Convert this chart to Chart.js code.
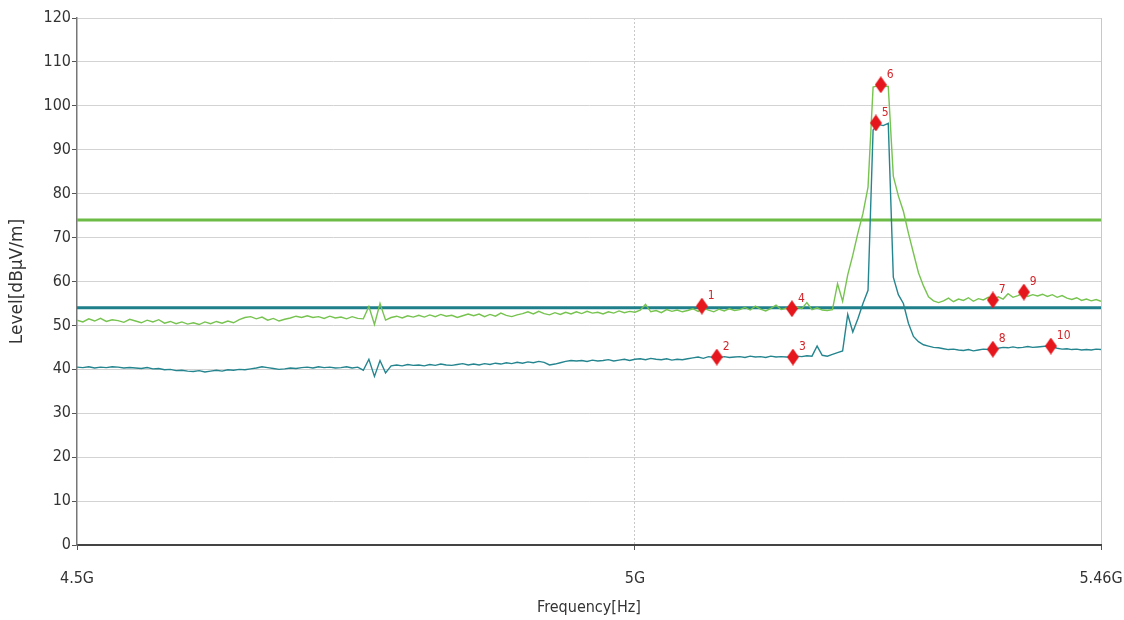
<!DOCTYPE html>
<html>
<head>
<meta charset="utf-8">
<script src="https://cdn.jsdelivr.net/npm/chart.js@4"></script>
<style>
  html, body { margin: 0; padding: 0; background: #fff; }
  #wrap { width: 1124px; height: 620px; position: relative; }
</style>
</head>
<body>
<div id="wrap"><canvas id="emiChart"></canvas></div>
<script>
// sweep grid (MHz)
const sweepStartMHz = 4500;
const sweepStepMHz = 5;

// peak trace (green), one value per 5 MHz from 4500 to 5460
const peakLevel = [
  51.2, 50.8, 51.5, 51.0, 51.6, 50.9, 51.3, 51.1, 50.7, 51.4,   // 4500
  51.0, 50.6, 51.2, 50.8, 51.3, 50.5, 50.9, 50.4, 50.8, 50.3,   // 4550
  50.6, 50.2, 50.8, 50.4, 50.9, 50.5, 51.0, 50.6, 51.3, 51.8,   // 4600
  52.0, 51.5, 51.9, 51.2, 51.6, 51.0, 51.4, 51.7, 52.1, 51.8,   // 4650
  52.2, 51.8, 52.0, 51.6, 52.1, 51.7, 51.9, 51.5, 52.0, 51.6,   // 4700
  51.5, 54.3, 50.2, 55.0, 51.2, 51.8, 52.1, 51.7, 52.2, 51.9,   // 4750
  52.3, 51.9, 52.4, 52.0, 52.5, 52.1, 52.3, 51.8, 52.2, 52.6,   // 4800
  52.2, 52.6, 52.0, 52.5, 52.1, 52.8, 52.3, 52.0, 52.4, 52.7,   // 4850
  53.1, 52.6, 53.2, 52.7, 52.4, 52.9, 52.5, 53.0, 52.6, 53.1,   // 4900
  52.7, 53.2, 52.8, 53.0, 52.6, 53.1, 52.8, 53.3, 52.9, 53.2,   // 4950
  53.0, 53.5, 54.8, 53.1, 53.4, 52.9, 53.6, 53.2, 53.5, 53.1,   // 5000
  53.4, 53.8, 53.2, 53.9, 53.5, 53.1, 53.7, 53.3, 53.8, 53.4,   // 5050
  53.6, 54.1, 53.5, 54.4, 53.7, 53.3, 53.9, 54.6, 53.6, 53.9,   // 5100
  53.7, 54.2, 53.8, 55.2, 53.6, 54.0, 53.5, 53.4, 53.6, 59.5,   // 5150
  55.5, 61.5, 66.0, 71.0, 75.5, 81.5, 104.3, 104.6, 104.5, 104.4, // 5200
  84.0, 79.5, 76.0, 71.0, 66.5, 62.0, 59.0, 56.5, 55.6, 55.2,   // 5250
  55.6, 56.2, 55.4, 56.0, 55.7, 56.3, 55.5, 56.1, 55.8, 56.4,   // 5300
  55.9, 56.5, 56.0, 57.2, 56.4, 56.8, 57.3, 56.6, 57.0, 56.7,   // 5350
  57.1, 56.6, 57.0, 56.4, 56.8, 56.2, 55.9, 56.3, 55.7, 56.0,   // 5400
  55.6, 55.9, 55.5                                              // 5450
];

// average trace (teal)
const avgLevel = [
  40.5, 40.4, 40.6, 40.3, 40.5, 40.4, 40.6, 40.5, 40.3, 40.4,
  40.3, 40.2, 40.4, 40.1, 40.2, 39.9, 40.0, 39.7, 39.8, 39.6,
  39.5, 39.7, 39.4, 39.6, 39.8, 39.6, 39.9, 39.8, 40.0, 39.9,
  40.1, 40.3, 40.6, 40.4, 40.2, 40.0, 40.1, 40.3, 40.2, 40.4,
  40.5, 40.3, 40.6, 40.4, 40.5, 40.3, 40.4, 40.6, 40.3, 40.5,
  39.8, 42.3, 38.4, 42.0, 39.2, 40.8, 41.0, 40.8, 41.1, 40.9,
  41.0, 40.8, 41.1, 40.9, 41.2, 41.0, 40.9, 41.1, 41.3, 41.0,
  41.2, 41.0, 41.3, 41.1, 41.4, 41.2, 41.5, 41.3, 41.6, 41.4,
  41.7, 41.5, 41.8, 41.6, 41.0, 41.2, 41.5, 41.8, 42.0, 41.9,
  42.0, 41.8, 42.1, 41.9, 42.0, 42.2, 41.9, 42.1, 42.3, 42.0,
  42.3, 42.4, 42.2, 42.5, 42.3, 42.2, 42.4, 42.1, 42.3, 42.2,
  42.4, 42.6, 42.8, 42.5, 42.9, 42.7, 42.6, 42.9, 42.7, 42.8,
  42.9, 42.7, 43.0, 42.8, 42.9, 42.7, 43.0, 42.8, 42.9, 42.8,
  42.8, 43.0, 42.9, 43.1, 43.0, 45.3, 43.2, 43.0, 43.4, 43.8,
  44.2, 52.5, 48.5, 51.5, 55.0, 58.0, 94.5, 95.8, 95.5, 96.0,
  61.0, 57.0, 55.0, 50.5, 47.5, 46.3, 45.6, 45.3, 45.0, 44.9,
  44.7, 44.5, 44.6, 44.4, 44.3, 44.5, 44.2, 44.4, 44.6, 44.5,
  44.6, 44.8, 45.0, 44.9, 45.1, 44.9, 45.0, 45.2, 45.0, 45.1,
  45.2, 45.3, 45.1, 44.8, 44.6, 44.7, 44.5, 44.6, 44.4, 44.5,
  44.4, 44.6, 44.5
];

// limit lines
const limitFreqMHz = [4500, 5460];
const peakLimit = [74, 74];
const avgLimit = [54, 54];

// markers
const markerLabels = ['1', '2', '3', '4', '5', '6', '7', '8', '9', '10'];
const markerFreqMHz = [5063.6, 5077.9, 5151.4, 5150.4, 5232.7, 5237.6, 5349.6, 5349.6, 5381.0, 5408.5];
const markerLevel = [54.4, 42.8, 42.8, 53.8, 96.1, 104.8, 55.8, 44.6, 57.6, 45.3];

// axis ticks
const xTickMHz = [4500, 5000, 5460];
const yTicks = [0, 10, 20, 30, 40, 50, 60, 70, 80, 90, 100, 110, 120];

const freqMHz = peakLevel.map((_, i) => sweepStartMHz + i * sweepStepMHz);
const toXY = (xs, ys) => ys.map((y, i) => ({ x: xs[i], y: y }));

// diamond marker image
const diamond = document.createElement('canvas');
diamond.width = 12; diamond.height = 17;
(function () {
  const c = diamond.getContext('2d');
  c.fillStyle = '#e5161c';
  c.beginPath();
  c.moveTo(6, 0); c.lineTo(12, 8.5); c.lineTo(6, 17); c.lineTo(0, 8.5);
  c.closePath();
  c.fill();
})();

// marker numbers
const markerText = {
  id: 'markerText',
  afterDatasetsDraw(chart) {
    const meta = chart.getDatasetMeta(4);
    const c = chart.ctx;
    c.save();
    c.fillStyle = '#d3262b';
    c.font = '12px "Liberation Sans Narrow", "DejaVu Sans Condensed", "Liberation Sans", Arial';
    c.textAlign = 'left';
    c.textBaseline = 'middle';
    meta.data.forEach((pt, i) => {
      c.fillText(markerLabels[i], pt.x + 6, pt.y - 10);
    });
    c.restore();
  }
};

const narrow = '"Liberation Sans Narrow", "DejaVu Sans Condensed", "Liberation Sans", Arial';

new Chart(document.getElementById('emiChart'), {
  type: 'line',
  data: {
    datasets: [
      {
        label: 'Peak limit',
        data: toXY(limitFreqMHz, peakLimit),
        borderColor: '#6cbb47',
        borderWidth: 3,
        pointRadius: 0,
        order: 4
      },
      {
        label: 'Avg limit',
        data: toXY(limitFreqMHz, avgLimit),
        borderColor: '#1f7f8b',
        borderWidth: 3,
        pointRadius: 0,
        order: 3
      },
      {
        label: 'Peak',
        data: toXY(freqMHz, peakLevel),
        borderColor: '#76c34f',
        borderWidth: 1.4,
        pointRadius: 0,
        tension: 0,
        order: 2
      },
      {
        label: 'Average',
        data: toXY(freqMHz, avgLevel),
        borderColor: '#25858f',
        borderWidth: 1.4,
        pointRadius: 0,
        tension: 0,
        order: 1
      },
      {
        label: 'Markers',
        data: toXY(markerFreqMHz, markerLevel),
        showLine: false,
        pointStyle: diamond,
        pointRadius: 8,
        order: 0
      }
    ]
  },
  options: {
    responsive: true,
    maintainAspectRatio: false,
    animation: false,
    events: [],
    layout: { padding: { left: 0, right: 23, top: 18, bottom: 0 } },
    plugins: {
      legend: { display: false },
      tooltip: { enabled: false }
    },
    scales: {
      x: {
        type: 'logarithmic',
        min: 4500,
        max: 5460,
        afterBuildTicks: (scale) => { scale.ticks = xTickMHz.map(v => ({ value: v })); },
        afterFit: (scale) => {
          scale.height = 75;
          scale.paddingLeft = 0;
          scale.paddingRight = 0;
        },
        ticks: {
          autoSkip: false,
          maxRotation: 0,
          padding: 19,
          color: '#333',
          font: { family: narrow, size: 16 },
          callback: (v) => (v / 1000) + 'G'
        },
        grid: {
          color: (ctx) => (ctx.tick && ctx.tick.value === 4500) ? 'rgba(0,0,0,0)' : '#c8c8c8',
          lineWidth: 1,
          tickColor: '#555',
          tickLength: 5
        },
        border: {
          color: '#444',
          width: 2,
          dash: (ctx) => (ctx.tick && ctx.tick.value === 5000) ? [2, 2] : []
        },
        title: {
          display: true,
          text: 'Frequency[Hz]',
          color: '#333',
          font: { family: narrow, size: 16 },
          padding: { top: 0, bottom: 3 }
        }
      },
      y: {
        min: 0,
        max: 120,
        afterBuildTicks: (scale) => { scale.ticks = yTicks.map(v => ({ value: v })); },
        afterFit: (scale) => { scale.width = 77; },
        ticks: {
          padding: 1,
          color: '#333',
          font: { family: narrow, size: 16 }
        },
        grid: {
          color: '#d3d3d3',
          lineWidth: 1,
          tickColor: '#555',
          tickLength: 5
        },
        border: { color: '#777', width: 1.5 },
        title: {
          display: true,
          text: 'Level[dBµV/m]',
          color: '#333',
          font: { family: '"DejaVu Sans", Verdana, sans-serif', size: 17 },
          padding: { top: 7, bottom: 0 }
        }
      }
    }
  },
  plugins: [markerText]
});
</script>
</body>
</html>
